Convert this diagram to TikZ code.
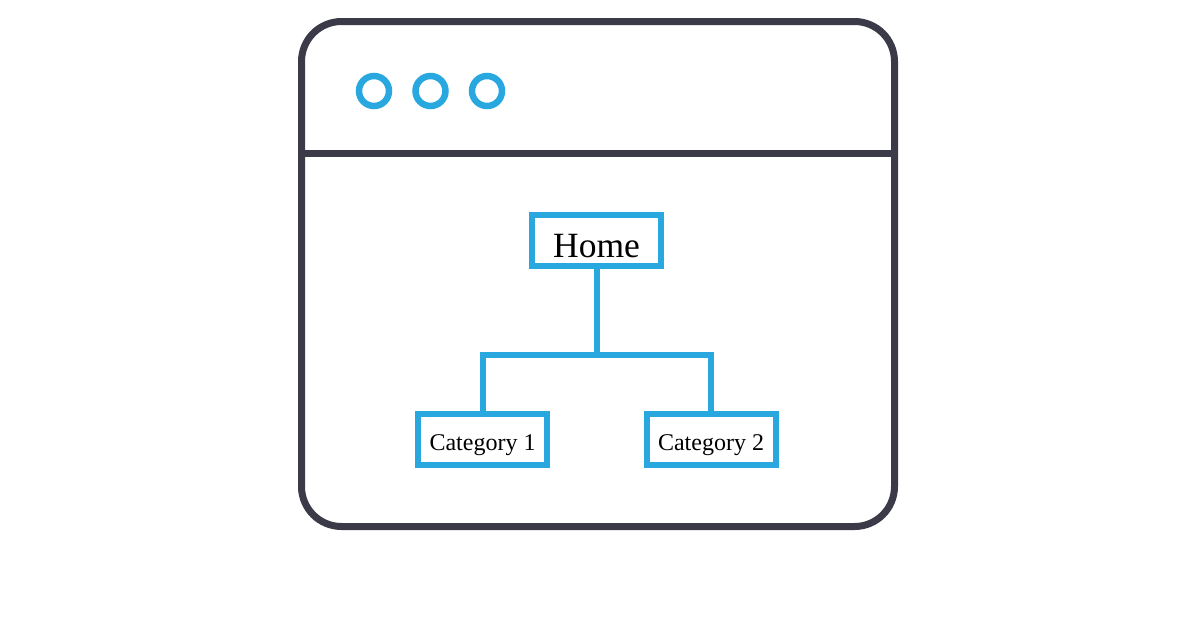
\documentclass[tikz,border=0pt]{standalone}
\usepackage{fontspec}
\setmainfont{Liberation Serif}
\usepackage{tikz}
\usetikzlibrary{positioning, calc}

\definecolor{winedge}{HTML}{3A3A48}
\definecolor{siteblue}{HTML}{29A8E0}

\begin{document}
\begin{tikzpicture}[
			x=1pt, y=-1pt,
			frame/.style={draw=winedge, line width=7pt},
			dot/.style={circle, draw=siteblue, line width=6.5pt, minimum size=30pt, inner sep=0pt},
			page/.style={rectangle, draw=siteblue, line width=6pt, fill=white, minimum width=129pt, minimum height=51pt, inner sep=0pt, text depth=0pt},
			link/.style={draw=siteblue, line width=6pt}
			]
			\useasboundingbox (0,0) rectangle (1200,630);
			
			% browser window
			\draw[frame, rounded corners=40pt] (301.5,21.5) rectangle (894.5,526.5);
			\draw[frame] (301.5,153) -- (894.5,153);
			\foreach \i/\x in {1/374, 2/430.5, 3/487}
				\node[dot] (dot\i) at (\x,91) {};
			
			% site map
			\node[page, text height=33pt, font=\fontsize{35.5}{37}\selectfont] (home) at (596.5,240.5) {Home};
			\node[page, text height=22.5pt, font=\fontsize{24}{25}\selectfont] (cat1) at (482.5,439.5) {Category 1};
			\node[page, text height=22.5pt, font=\fontsize{24}{25}\selectfont] (cat2) at (711,439.5) {Category 2};
			\coordinate (hub) at (596.5,355);
			
			\draw[link] (home) -- (hub);
			\draw[link] (cat1.north) |- (hub) -| (cat2.north);
		\end{tikzpicture}
\end{document}
